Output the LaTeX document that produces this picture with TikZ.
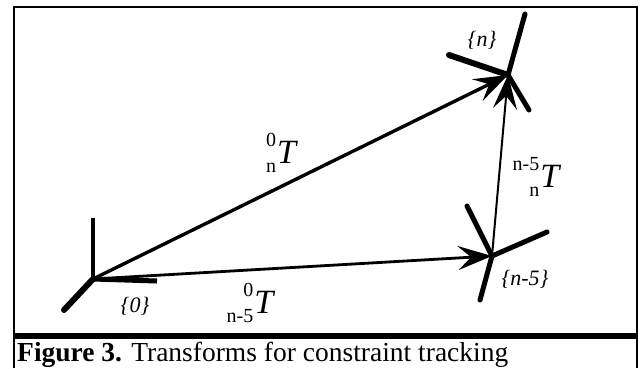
\documentclass[tikz,border=0pt]{standalone}
\usepackage{fontspec}
\setmainfont{Liberation Serif}
\usetikzlibrary{arrows.meta}
\newcommand{\scfont}{\fontsize{20}{20}\selectfont}
\newcommand{\bigT}{\fontsize{34}{34}\selectfont\itshape T}
\newcommand{\tflab}[2]{\leavevmode\sbox0{\scfont #1}\sbox2{\scfont #2}%
  \ifdim\wd0>\wd2 \dimen0=\wd0 \else \dimen0=\wd2 \fi
  \makebox[\dimen0][r]{\raisebox{17pt}{\usebox0}}\llap{\raisebox{-9pt}{\usebox2}}\kern1pt\bigT}
\begin{document}
\begin{tikzpicture}[x=1pt,y=-1pt,
  axis/.style={line width=5pt,line cap=round},
  tarrow/.style={-{Stealth[length=34pt,width=24pt,inset=13pt]}},
  framelab/.style={font=\fontsize{22}{22}\selectfont\itshape,inner sep=0pt},
  tlab/.style={inner sep=0pt,anchor=base}]
\useasboundingbox (0,0) rectangle (640,368);
% border
\draw[line width=2pt] (13.5,368) -- (13.5,7) -- (637,7) -- (637,368);
\draw[line width=5.5pt] (13.5,336) -- (637,336);
% frame origins
\coordinate (F0) at (93,279);
\coordinate (F5) at (492,256);
\coordinate (Fn) at (508,75);
% axis ends
\coordinate (A0a) at (93,218);
\coordinate (A0b) at (157,281);
\coordinate (A0c) at (64,310);
\coordinate (A5a) at (467,206);
\coordinate (A5b) at (547,232);
\coordinate (A5c) at (480,300);
\coordinate (Ana) at (525,14);
\coordinate (Anb) at (449,55);
\coordinate (Anc) at (529,110);
% axes
\draw[line width=4pt] (F0) -- (A0a);
\draw[line width=5pt] (F0) -- (A0b);
\draw[axis,line width=6pt] (F0) -- (A0c);
\draw[axis] (F5) -- (A5a);
\draw[axis] (F5) -- (A5b);
\draw[axis] (F5) -- (A5c);
\draw[axis] (Fn) -- (Ana);
\draw[axis,line width=6pt] (Fn) -- (Anb);
\draw[axis] (Fn) -- (Anc);
% transforms
\draw[tarrow,line width=3.4pt] (F0) -- (Fn);
\draw[tarrow,line width=2.8pt] (F0) -- (F5);
\draw[tarrow,line width=2pt] (F5) -- (Fn);
% frame labels
\node[framelab] (L0) at (135,306) {\{0\}};
\node[framelab] (Ln) at (482,40) {\{n\}};
\node[framelab] (L5) at (525,279) {\{n-5\}};
% transform labels
\node[tlab] (T0n) at (281,163) {\tflab{0}{n}};
\node[tlab] (T05) at (250,313) {\tflab{0}{n-5}};
\node[tlab] (T5n) at (536,187) {\tflab{n-5}{n}};
% caption
\node[anchor=base west,inner sep=0pt,font=\fontsize{27.5}{27.5}\selectfont] (cap) at (17,361) {\textbf{Figure 3.} Transforms for constraint tracking};
\end{tikzpicture}
\end{document}
